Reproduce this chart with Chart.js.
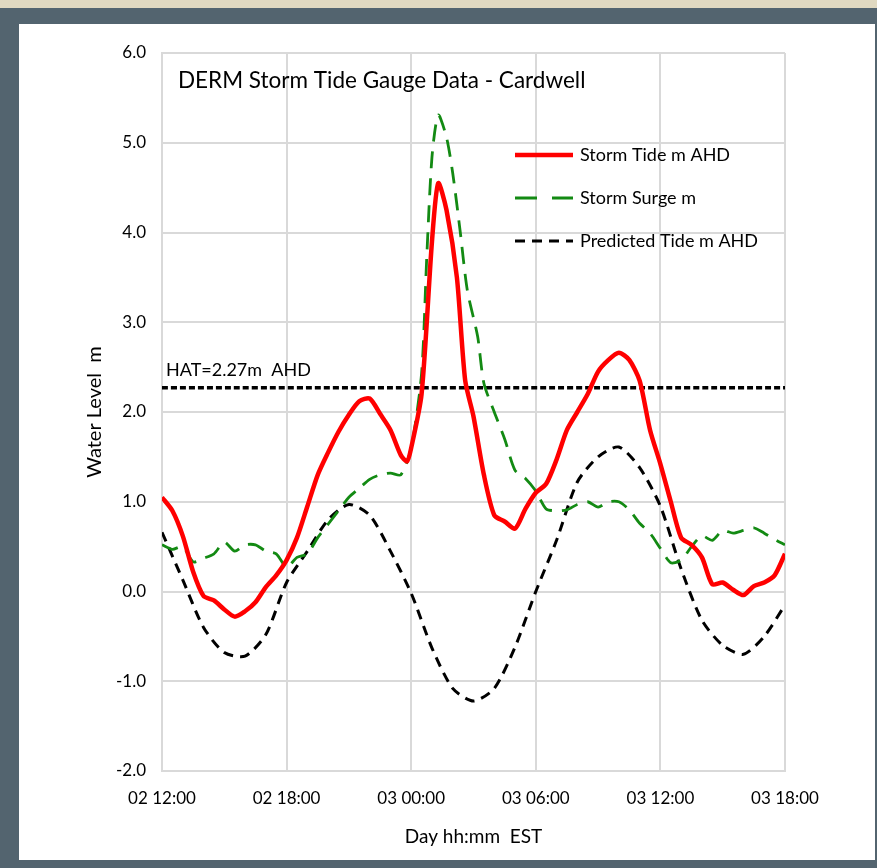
<!DOCTYPE html>
<html lang="en">
<head>
    <meta charset="UTF-8">
    <title>DERM Storm Tide Gauge Data - Cardwell</title>
    <script src="https://cdn.jsdelivr.net/npm/chart.js"></script>
    <style>
        body { margin: 0; background: #53646f; font-family: Lato, sans-serif; }
        .strip { position: absolute; left: 0; top: 0; width: 877px; height: 8px; background: #e0d9c1; }
        .panel { position: absolute; left: 19px; top: 24px; width: 856px; height: 836px; background: #fff; }
        canvas { display: block; }
    </style>
</head>
<body>
    <div class="strip"></div>
    <div class="panel"><canvas id="tideChart" width="856" height="836"></canvas></div>

    <script>
        // hours after 02 12:00 EST
        const xTickLabels = ["02 12:00", "02 18:00", "03 00:00", "03 06:00", "03 12:00", "03 18:00"];
        const hatLevel = 2.27;

        const stormTideHours = [0, 0.5, 1, 1.5, 2, 2.5, 3, 3.5, 4, 4.5, 5, 5.5, 6, 6.5, 7, 7.5, 8, 8.5, 9, 9.5, 10, 10.5, 11, 11.5, 11.8, 12, 12.5, 13, 13.3, 13.7, 14.2, 14.6, 15, 15.5, 16, 16.5, 17, 17.5, 18, 18.5, 19, 19.5, 20, 20.5, 21, 21.5, 22, 22.5, 23, 23.5, 24, 24.5, 25, 25.5, 26, 26.5, 27, 27.5, 28, 28.5, 29, 29.5, 30];
        const stormTide = [1.05, 0.9, 0.62, 0.22, -0.05, -0.1, -0.2, -0.28, -0.22, -0.12, 0.05, 0.18, 0.35, 0.6, 0.95, 1.3, 1.55, 1.78, 1.97, 2.12, 2.15, 1.98, 1.8, 1.52, 1.45, 1.6, 2.2, 3.9, 4.55, 4.25, 3.5, 2.35, 1.95, 1.3, 0.85, 0.78, 0.7, 0.92, 1.1, 1.2, 1.47, 1.8, 2.0, 2.2, 2.45, 2.58, 2.66, 2.58, 2.35, 1.8, 1.42, 1.0, 0.6, 0.52, 0.38, 0.08, 0.1, 0.02, -0.04, 0.06, 0.1, 0.18, 0.42];

        const stormSurgeHours = [0, 0.5, 1, 1.5, 2, 2.5, 3, 3.5, 4, 4.5, 5, 5.5, 6, 6.5, 7, 7.5, 8, 8.5, 9, 9.5, 10, 10.5, 11, 11.5, 12, 12.5, 12.75, 13, 13.3, 13.7, 14, 14.35, 14.7, 15.2, 15.5, 16, 16.5, 17, 17.5, 18, 18.5, 19, 19.5, 20, 20.5, 21, 21.5, 22, 22.5, 23, 23.5, 24, 24.5, 25, 25.5, 26, 26.5, 27, 27.5, 28, 28.5, 29, 29.5, 30];
        const stormSurge = [0.52, 0.47, 0.5, 0.33, 0.37, 0.42, 0.55, 0.45, 0.52, 0.52, 0.45, 0.42, 0.27, 0.38, 0.42, 0.6, 0.75, 0.9, 1.05, 1.15, 1.25, 1.3, 1.32, 1.3, 1.6, 2.43, 3.73, 4.84, 5.31, 5.06, 4.66, 4.03, 3.36, 2.84, 2.32, 2.0, 1.7, 1.35, 1.26, 1.12, 0.92, 0.9, 0.91, 0.97, 1.0, 0.94, 1.0, 1.0, 0.91, 0.76, 0.65, 0.48, 0.32, 0.35, 0.5, 0.62, 0.57, 0.68, 0.65, 0.68, 0.71, 0.65, 0.58, 0.52];

        const predictedHours = [0, 1, 2, 3, 4, 5, 6, 7, 8, 9, 10, 11, 12, 13, 14, 15, 16, 17, 18, 19, 20, 21, 22, 23, 24, 25, 26, 27, 28, 29, 30];
        const predictedTide = [0.66, 0.13, -0.4, -0.68, -0.72, -0.48, 0.1, 0.45, 0.8, 0.97, 0.85, 0.45, -0.02, -0.63, -1.08, -1.22, -1.08, -0.62, 0.0, 0.57, 1.22, 1.5, 1.61, 1.38, 0.95, 0.25, -0.32, -0.6, -0.7, -0.5, -0.15];

        const pts = (xs, ys) => xs.map((x, i) => ({ x: x, y: ys[i] }));

        const series = [
            { label: "Storm Tide m AHD", color: "#ff0000", width: 4.5, dash: [], keyDash: [] },
            { label: "Storm Surge m", color: "#138a13", width: 2.8, dash: [17, 10], keyDash: [22, 15] },
            { label: "Predicted Tide m AHD", color: "#000000", width: 3, dash: [10, 7], keyDash: [10, 7] }
        ];

        // title, HAT label and legend are drawn inside the plot
        const insideText = {
            id: "insideText",
            afterDraw(chart) {
                const ctx = chart.ctx, a = chart.chartArea;
                ctx.save();
                ctx.fillStyle = "#000";
                ctx.textBaseline = "middle";
                ctx.font = "22.5px Lato";
                ctx.fillText("DERM Storm Tide Gauge Data - Cardwell", a.left + 16, a.top + 28);
                ctx.font = "18px Lato";
                ctx.fillText("HAT=2.27m  AHD", a.left + 4, chart.scales.y.getPixelForValue(hatLevel) - 18);
                series.forEach((s, i) => {
                    const y = a.top + 102 + i * 43;
                    ctx.strokeStyle = s.color;
                    ctx.lineWidth = s.width;
                    ctx.setLineDash(s.keyDash);
                    ctx.beginPath();
                    ctx.moveTo(a.left + 353, y);
                    ctx.lineTo(a.left + 411, y);
                    ctx.stroke();
                    ctx.fillText(s.label, a.left + 418, y);
                });
                ctx.restore();
            }
        };

        new Chart(document.getElementById("tideChart").getContext("2d"), {
            type: "line",
            data: {
                datasets: [
                    { data: pts(stormTideHours, stormTide), borderColor: series[0].color, borderWidth: series[0].width, borderDash: series[0].dash },
                    { data: pts(stormSurgeHours, stormSurge), borderColor: series[1].color, borderWidth: series[1].width, borderDash: series[1].dash },
                    { data: pts(predictedHours, predictedTide), borderColor: series[2].color, borderWidth: series[2].width, borderDash: series[2].dash },
                    { data: [{ x: 0, y: hatLevel }, { x: 30, y: hatLevel }], borderColor: "#000", borderWidth: 3.5, borderDash: [6, 3] }
                ]
            },
            options: {
                responsive: false,
                animation: false,
                elements: { point: { radius: 0 }, line: { tension: 0.25 } },
                layout: { padding: { left: 60, top: 29, right: 90, bottom: 8 } },
                plugins: { legend: { display: false }, tooltip: { enabled: false } },
                scales: {
                    x: {
                        type: "linear", min: 0, max: 30,
                        afterFit: s => { s.height = 81; },
                        grid: { color: "#d9d9d9", lineWidth: 2, drawTicks: false },
                        border: { color: "#d9d9d9", width: 2 },
                        ticks: { stepSize: 6, padding: 17, color: "#000", font: { family: "Lato", size: 17 },
                                 callback: v => xTickLabels[v / 6] },
                        title: { display: true, text: "Day hh:mm  EST", color: "#000", font: { family: "Lato", size: 19 } }
                    },
                    y: {
                        min: -2, max: 6,
                        afterFit: s => { s.width = 83; },
                        grid: { color: "#d9d9d9", lineWidth: 2, drawTicks: false },
                        border: { color: "#d9d9d9", width: 2 },
                        ticks: { stepSize: 1, padding: 16, color: "#000", font: { family: "Lato", size: 17 },
                                 callback: v => v.toFixed(1) },
                        title: { display: true, text: "Water Level  m", color: "#000", font: { family: "Lato", size: 20 } }
                    }
                }
            },
            plugins: [insideText]
        });
    </script>
</body>
</html>
